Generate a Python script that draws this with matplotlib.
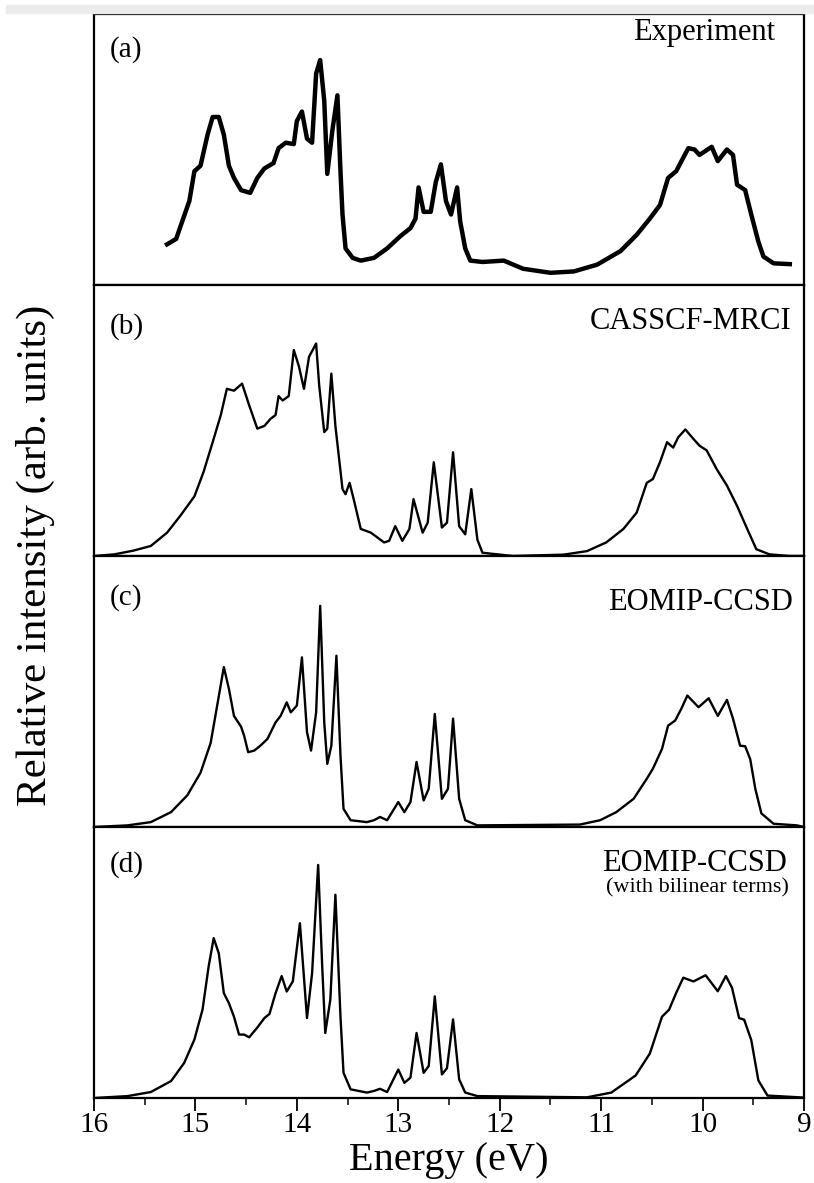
import numpy as np
import matplotlib.pyplot as plt
from matplotlib.patches import Rectangle

plt.rcParams['font.family'] = ['Liberation Serif', 'DejaVu Serif']

# (a) experiment, energy (eV) / relative intensity
exp_e = [15.28, 15.19, 15.13, 15.06, 15.01, 14.95, 14.88, 14.83, 14.77, 14.72,
         14.67, 14.62, 14.55, 14.46, 14.39, 14.32, 14.23, 14.18, 14.11, 14.03,
         14.00, 13.95, 13.90, 13.85, 13.81, 13.77, 13.73, 13.70, 13.65, 13.60,
         13.57, 13.55, 13.52, 13.45, 13.37, 13.24, 13.11, 12.98, 12.88, 12.83,
         12.80, 12.75, 12.68, 12.63, 12.58, 12.53, 12.48, 12.42, 12.39, 12.34,
         12.29, 12.17, 11.96, 11.77, 11.50, 11.27, 11.04, 10.81, 10.65, 10.52,
         10.42, 10.34, 10.26, 10.19, 10.14, 10.08, 10.03, 9.91, 9.85, 9.76,
         9.70, 9.66, 9.58, 9.52, 9.45, 9.40, 9.30, 9.14]
exp_i = [0.15, 0.17, 0.235, 0.31, 0.42, 0.44, 0.555, 0.62, 0.62, 0.555,
         0.44, 0.395, 0.35, 0.34, 0.395, 0.43, 0.45, 0.505, 0.525, 0.52,
         0.605, 0.64, 0.54, 0.525, 0.78, 0.83, 0.68, 0.41, 0.57, 0.70,
         0.42, 0.26, 0.135, 0.10, 0.09, 0.10, 0.135, 0.18, 0.21, 0.245,
         0.36, 0.27, 0.27, 0.38, 0.445, 0.31, 0.26, 0.36, 0.235, 0.135,
         0.09, 0.085, 0.09, 0.06, 0.045, 0.05, 0.075, 0.125, 0.185, 0.245,
         0.295, 0.395, 0.42, 0.47, 0.505, 0.50, 0.48, 0.51, 0.457, 0.50,
         0.48, 0.37, 0.35, 0.26, 0.16, 0.105, 0.08, 0.077]

# (b) CASSCF-MRCI
mrci_e = [16.0, 15.80, 15.61, 15.44, 15.28, 15.15, 15.01, 14.92, 14.83, 14.75,
          14.69, 14.62, 14.54, 14.47, 14.39, 14.32, 14.26, 14.21, 14.18, 14.14,
          14.08, 14.03, 13.98, 13.93, 13.88, 13.81, 13.78, 13.73, 13.70, 13.66,
          13.62, 13.55, 13.52, 13.48, 13.44, 13.37, 13.27, 13.14, 13.09, 13.03,
          12.96, 12.89, 12.85, 12.76, 12.71, 12.65, 12.57, 12.52, 12.46, 12.40,
          12.34, 12.28, 12.22, 12.17, 11.87, 11.37, 11.14, 10.95, 10.78, 10.65,
          10.55, 10.49, 10.42, 10.35, 10.29, 10.24, 10.17, 10.09, 10.03, 9.96,
          9.86, 9.76, 9.66, 9.56, 9.47, 9.34, 9.14, 9.0]
mrci_i = [0.0, 0.006, 0.02, 0.037, 0.086, 0.148, 0.22, 0.31, 0.42, 0.52,
          0.617, 0.61, 0.636, 0.556, 0.47, 0.48, 0.506, 0.52, 0.59, 0.574,
          0.59, 0.76, 0.70, 0.617, 0.735, 0.784, 0.63, 0.457, 0.47, 0.673,
          0.48, 0.247, 0.228, 0.27, 0.21, 0.10, 0.086, 0.05, 0.056, 0.11,
          0.056, 0.10, 0.21, 0.086, 0.123, 0.346, 0.105, 0.123, 0.383, 0.11,
          0.08, 0.247, 0.06, 0.012, 0.0, 0.005, 0.018, 0.05, 0.10, 0.16,
          0.27, 0.284, 0.346, 0.42, 0.40, 0.438, 0.467, 0.432, 0.407, 0.39,
          0.32, 0.26, 0.185, 0.10, 0.025, 0.006, 0.0, 0.0]

# (c) EOMIP-CCSD
cc_e = [16.0, 15.67, 15.44, 15.24, 15.08, 14.95, 14.85, 14.78, 14.72, 14.67,
        14.62, 14.55, 14.52, 14.48, 14.42, 14.36, 14.29, 14.21, 14.16, 14.10,
        14.06, 14.00, 13.95, 13.90, 13.86, 13.81, 13.77, 13.73, 13.70, 13.66,
        13.61, 13.57, 13.54, 13.47, 13.31, 13.24, 13.18, 13.11, 13.00, 12.94,
        12.88, 12.82, 12.75, 12.70, 12.64, 12.57, 12.51, 12.46, 12.40, 12.34,
        12.22, 11.21, 11.01, 10.85, 10.68, 10.55, 10.49, 10.40, 10.34, 10.27,
        10.21, 10.15, 10.04, 9.94, 9.85, 9.76, 9.70, 9.63, 9.58, 9.53,
        9.48, 9.42, 9.30, 9.07, 9.0]
cc_i = [0.0, 0.006, 0.018, 0.055, 0.117, 0.20, 0.31, 0.46, 0.59, 0.51,
        0.41, 0.37, 0.337, 0.276, 0.282, 0.30, 0.325, 0.386, 0.41, 0.46,
        0.423, 0.448, 0.626, 0.35, 0.282, 0.423, 0.816, 0.386, 0.233, 0.30,
        0.632, 0.264, 0.067, 0.025, 0.018, 0.025, 0.037, 0.025, 0.092, 0.055,
        0.092, 0.24, 0.098, 0.141, 0.417, 0.104, 0.141, 0.40, 0.104, 0.025,
        0.006, 0.009, 0.025, 0.055, 0.104, 0.178, 0.215, 0.288, 0.374, 0.393,
        0.436, 0.485, 0.442, 0.475, 0.41, 0.469, 0.40, 0.30, 0.298, 0.25,
        0.141, 0.05, 0.012, 0.006, 0.0]

# (d) EOMIP-CCSD with bilinear terms
bil_e = [16.0, 15.67, 15.44, 15.24, 15.11, 15.01, 14.93, 14.87, 14.82, 14.77,
         14.72, 14.67, 14.62, 14.57, 14.52, 14.47, 14.39, 14.32, 14.27, 14.21,
         14.15, 14.10, 14.04, 13.97, 13.90, 13.85, 13.79, 13.75, 13.72, 13.67,
         13.62, 13.57, 13.54, 13.47, 13.31, 13.24, 13.18, 13.11, 13.00, 12.94,
         12.88, 12.82, 12.75, 12.70, 12.64, 12.57, 12.52, 12.46, 12.40, 12.34,
         12.22, 11.14, 10.90, 10.66, 10.52, 10.40, 10.33, 10.26, 10.19, 10.09,
         9.97, 9.85, 9.77, 9.71, 9.64, 9.59, 9.52, 9.45, 9.36, 9.02, 9.0]
bil_i = [0.0, 0.007, 0.022, 0.0625, 0.13, 0.216, 0.326, 0.485, 0.59, 0.534,
         0.387, 0.35, 0.30, 0.234, 0.234, 0.224, 0.26, 0.295, 0.31, 0.387,
         0.45, 0.393, 0.43, 0.645, 0.295, 0.46, 0.86, 0.485, 0.24, 0.363,
         0.75, 0.30, 0.093, 0.032, 0.02, 0.026, 0.034, 0.022, 0.105, 0.056,
         0.075, 0.24, 0.093, 0.118, 0.375, 0.087, 0.11, 0.29, 0.069, 0.02,
         0.007, 0.0025, 0.02, 0.083, 0.164, 0.30, 0.326, 0.388, 0.444, 0.43,
         0.453, 0.394, 0.45, 0.407, 0.295, 0.289, 0.214, 0.065, 0.009, 0.002, 0.0]

panel_tags = ['(a)', '(b)', '(c)', '(d)']
method_names = ['Experiment', 'CASSCF-MRCI', 'EOMIP-CCSD', 'EOMIP-CCSD']
series = [(exp_e, exp_i), (mrci_e, mrci_i), (cc_e, cc_i), (bil_e, bil_i)]

fig = plt.figure(figsize=(8.14, 11.83), dpi=100)
fig.patches.append(Rectangle((6 / 814, 1 - 13 / 1183), 1, 8 / 1183,
                             transform=fig.transFigure, color='#ececec', zorder=0))
gs = fig.add_gridspec(4, 1, left=94 / 814, right=804 / 814,
                      top=1 - 14 / 1183, bottom=1 - 1098 / 1183, hspace=0)

tag_y = [0.87, 0.845, 0.845, 0.86]
name_pos = [(0.959, 0.933), (0.983, 0.867), (0.985, 0.83), (0.976, 0.867)]

for k in range(4):
    ax = fig.add_subplot(gs[k])
    x, y = series[k]
    lw = 3.2 if k == 0 else 1.7
    ax.plot(x, y, color='black', lw=lw, solid_joinstyle='round')
    ax.set_xlim(16, 9)
    ax.set_ylim(0, 1)
    ax.set_yticks([])
    ax.set_xticks(np.arange(9, 17))
    ax.set_xticks(np.arange(9.5, 16, 1.0), minor=True)
    ax.tick_params(axis='x', which='major', direction='out', length=9, width=1.3,
                   labelsize=21, pad=1, top=False)
    ax.tick_params(axis='x', which='minor', direction='out', length=5, width=1.1)
    for s in ax.spines.values():
        s.set_linewidth(1.6)
    if k < 3:
        ax.tick_params(axis='x', labelbottom=False)
    ax.text(0.022, tag_y[k], panel_tags[k], transform=ax.transAxes,
            fontsize=21, ha='left', va='center')
    ax.text(name_pos[k][0], name_pos[k][1], method_names[k], transform=ax.transAxes,
            fontsize=22, ha='right', va='center')
    if k == 3:
        ax.text(0.979, 0.775, '(with bilinear terms)', transform=ax.transAxes,
                fontsize=16, ha='right', va='center')
        ax.set_xlabel('Energy (eV)', fontsize=29, labelpad=3)

fig.text(35 / 814, 1 - 555 / 1183, 'Relative intensity (arb. units)', rotation=90,
         fontsize=31, ha='center', va='center')

fig.savefig('out.png', dpi=100)
